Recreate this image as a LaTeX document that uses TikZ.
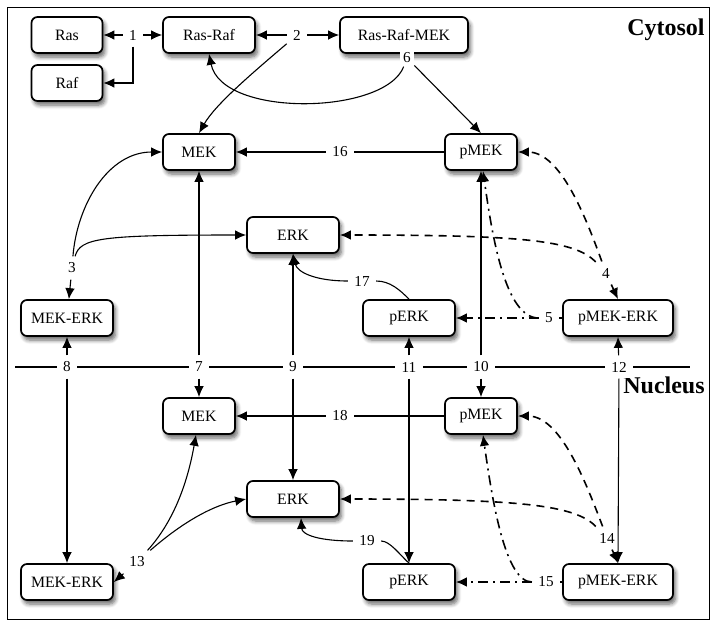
\documentclass[tikz,border=0pt]{standalone}
\usepackage{fontspec}
\setmainfont{Liberation Serif}
\usetikzlibrary{arrows.meta,shadows.blur}

\begin{document}
\begin{tikzpicture}[x=0.5pt,y=-0.5pt,line width=0.55pt]
    \tikzset{species/.style={draw, line width=0.85pt, rounded corners=3pt, fill=white,
            minimum height=18pt, inner sep=0pt, font=\fontsize{7.9}{9}\selectfont,
            blur shadow={shadow xshift=1.2pt, shadow yshift=-2pt, shadow blur radius=2pt,
            shadow blur steps=6, shadow opacity=60}},
        rxn/.style={fill=white, inner sep=3pt, font=\fontsize{7.6}{9}\selectfont},
        comp/.style={font=\fontsize{12}{14}\selectfont\bfseries},
        tip/.style={-{Latex[length=5.5pt,width=4.8pt]}},
        dsh/.style={line width=0.8pt, dash pattern=on 4pt off 3pt},
        dshdot/.style={line width=0.8pt, dash pattern=on 5pt off 2.5pt on 1pt off 2.5pt}}

    \useasboundingbox (0,0) rectangle (717,628);
    \draw[line width=0.5pt] (7,7) rectangle (709,619);
    \node[comp] (cyto) at (666,30) {Cytosol};
    \node[comp] (nucl) at (664,385) {Nucleus};

    % cytosol
    \node[species, minimum width=35.5pt] (ras) at (67,35) {Ras};
    \node[species, minimum width=35.5pt] (raf) at (67,83) {Raf};
    \node[species, minimum width=46pt] (rasraf) at (209,35) {Ras-Raf};
    \node[species, minimum width=64pt] (rasrafmek) at (404,35) {Ras-Raf-MEK};
    \node[species, minimum width=36pt] (mek1) at (199,152) {MEK};
    \node[species, minimum width=36pt] (pmek1) at (481,152) {pMEK};
    \node[species, minimum width=46pt] (erk1) at (293,235) {ERK};
    \node[species, minimum width=46pt] (mekerk1) at (67,318) {MEK-ERK};
    \node[species, minimum width=46pt] (perk1) at (409,318) {pERK};
    \node[species, minimum width=55pt] (pmekerk1) at (618,318) {pMEK-ERK};

    % nucleus
    \node[species, minimum width=36pt] (mek2) at (199,416) {MEK};
    \node[species, minimum width=36pt] (pmek2) at (481,416) {pMEK};
    \node[species, minimum width=46pt] (erk2) at (293,499) {ERK};
    \node[species, minimum width=46pt] (mekerk2) at (67,582) {MEK-ERK};
    \node[species, minimum width=46pt] (perk2) at (409,582) {pERK};
    \node[species, minimum width=55pt] (pmekerk2) at (618,582) {pMEK-ERK};

    % reactions
    \node[rxn] (r1) at (133,35) {1};
    \node[rxn] (r2) at (297,35) {2};
    \node[rxn, inner sep=1.5pt] (r6) at (407,58) {6};
    \node[rxn] (r16) at (340,152) {16};
    \node[rxn] (r3) at (72,268) {3};
    \node[rxn] (r4) at (606,273) {4};
    \node[rxn] (r5) at (549,318) {5};
    \node[rxn] (r17) at (362,281) {17};
    \node[rxn] (r8) at (67,367) {8};
    \node[rxn] (r7) at (199,367) {7};
    \node[rxn] (r9) at (293,367) {9};
    \node[rxn] (r11) at (409,367) {11};
    \node[rxn] (r10) at (481,367) {10};
    \node[rxn] (r12) at (619,367) {12};
    \node[rxn] (r18) at (340,416) {18};
    \node[rxn] (r13) at (137,562) {13};
    \node[rxn] (r14) at (607,538) {14};
    \node[rxn] (r15) at (546,582) {15};
    \node[rxn] (r19) at (367,541) {19};
    \coordinate (divL) at (15,367);
    \coordinate (divR) at (690,367);

    \draw (divL) -- (r8) -- (r7) -- (r9) -- (r11) -- (r10) -- (r12) -- (divR);

    \draw[tip] (r1) -- (ras);
    \draw[tip] (r1) -- (rasraf);
    \draw[tip] (r1) |- (raf);
    \draw[tip] (r2) -- (rasraf);
    \draw[tip] (r2) -- (rasrafmek);
    \draw[tip] (r2) .. controls (250,75) and (215,105) .. (mek1.north);
    \draw[tip] (r6) .. controls (385,115) and (222,118) .. (rasraf.south);
    \draw[tip] (r6) -- (pmek1.north);
    \draw (pmek1) -- (r16);
    \draw[tip] (r16) -- (mek1);
    \draw[tip] (r3) .. controls (77,205) and (108,152) .. (mek1.west);
    \draw[tip] (r3) .. controls (80,238) and (100,235) .. (erk1.west);
    \draw[tip] (r3) -- (mekerk1);
    \draw[tip, dsh] (r4) -- (pmekerk1.north);
    \draw[tip, dsh] (r4) .. controls (585,215) and (560,152) .. (pmek1.east);
    \draw[tip, dsh] (r4) .. controls (575,240) and (520,235) .. (erk1.east);
    \draw[dshdot] (pmekerk1) -- (r5);
    \draw[tip, dshdot] (r5) -- (perk1);
    \draw[tip, dshdot] (r5) .. controls (505,318) and (492,235) .. ([xshift=1pt]pmek1.south);
    \draw (perk1.north) .. controls (400,290) and (390,281) .. (r17);
    \draw[tip] (r17) .. controls (315,281) and (297,272) .. (erk1.south);

    % transport
    \draw[tip] (r8) -- (mekerk1);
    \draw[tip] (r8) -- (mekerk2);
    \draw[tip] (r7) -- (mek1);
    \draw[tip] (r7) -- (mek2);
    \draw[tip] (r9) -- (erk1);
    \draw[tip] (r9) -- (erk2);
    \draw[tip] (r11) -- (perk1);
    \draw[tip] (r11) -- (perk2);
    \draw[tip] (r10) -- (pmek1);
    \draw[tip] (r10) -- (pmek2);
    \draw[tip] (r12) -- (pmekerk1.south);
    \draw[tip] (r12) -- (pmekerk2.north);

    \draw (pmek2) -- (r18);
    \draw[tip] (r18) -- (mek2);
    \draw[tip] (r13) -- (mekerk2.east);
    \draw[tip] (r13) .. controls (175,520) and (188,480) .. ([xshift=-1.5pt]mek2.south);
    \draw[tip] (r13) .. controls (185,520) and (215,505) .. (erk2.west);
    \draw[tip, dsh] (r14) -- (pmekerk2.north);
    \draw[tip, dsh] (r14) .. controls (585,480) and (560,416) .. (pmek2.east);
    \draw[tip, dsh] (r14) .. controls (575,505) and (520,499) .. (erk2.east);
    \draw[dshdot] (pmekerk2) -- (r15);
    \draw[tip, dshdot] (r15) -- (perk2);
    \draw[tip, dshdot] (r15) .. controls (505,582) and (492,499) .. ([xshift=1pt]pmek2.south);
    \draw (perk2.north) .. controls (400,555) and (390,541) .. (r19);
    \draw[tip] (r19) .. controls (320,541) and (302,535) .. ([xshift=4pt]erk2.south);
\end{tikzpicture}
\end{document}
